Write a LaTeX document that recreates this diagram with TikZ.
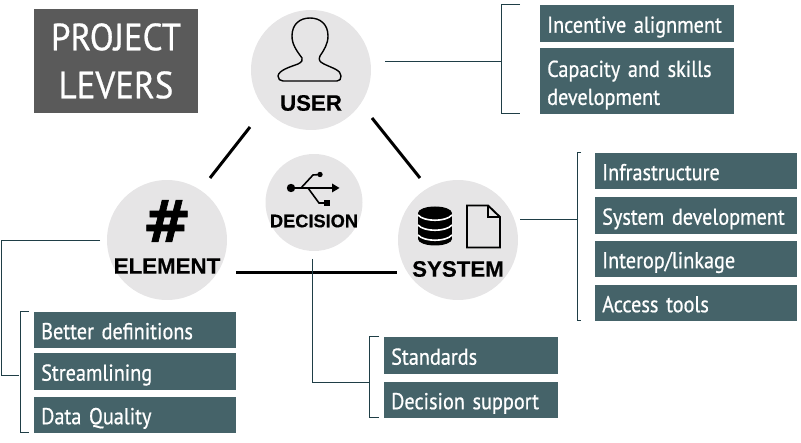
\documentclass[tikz,border=0pt]{standalone}
\usepackage{fontspec}
\setmainfont{Liberation Sans}[BoldFeatures={FakeBold=0.4}]
\newfontfamily\leverfont[FakeStretch=0.88,FakeBold=0.65,WordSpace=0.55]{PT Sans}
\newfontfamily\titlefont[FakeStretch=0.92,FakeBold=0.65]{PT Sans}
\newfontfamily\hashfont[FakeBold=1.2]{DejaVu Sans Bold}
\definecolor{levercol}{HTML}{456369}
\definecolor{linecol}{HTML}{1F3E46}
\definecolor{circcol}{HTML}{E6E5E6}
\definecolor{titlecol}{HTML}{5A5A5A}
\tikzset{
  levercirc/.style={circle,fill=circcol,inner sep=0pt},
  leverbox/.style={fill=levercol,text=white,anchor=north west,inner xsep=7pt,inner ysep=0pt,align=left,
    font=\leverfont\fontsize{23}{28}\selectfont,execute at begin node=\rule[-6pt]{0pt}{30pt}},
  levername/.style={font=\bfseries\fontsize{22.3}{24}\selectfont,inner sep=0pt},
  leverline/.style={draw=linecol,line width=1pt},
  linkline/.style={draw=black,line width=3pt}
}
\begin{document}
\begin{tikzpicture}[x=1pt,y=-1pt]
  \useasboundingbox (0,0) rectangle (801,443);
  % title
  \node[fill=titlecol,text=white,minimum width=164pt,minimum height=104pt,inner sep=0pt,align=center,
    font=\titlefont\fontsize{38}{48}\selectfont] (title) at (116,61) {PROJECT\\LEVERS};
  % circles
  \node[levercirc,minimum size=120pt] (user) at (311,70) {};
  \node[levercirc,minimum size=120pt] (element) at (167,240) {};
  \node[levercirc,minimum size=120pt] (system) at (458,240) {};
  \node[levercirc,minimum size=97pt] (decision) at (314,202.5) {};
  \node[levername] (userlabel) at (311,103) {USER};
  \node[levername] (elementlabel) at (167,266) {ELEMENT};
  \node[levername] (systemlabel) at (458,269) {SYSTEM};
  \node[levername,font=\bfseries\fontsize{18.2}{20}\selectfont] (decisionlabel) at (314,221) {DECISION};
  % links between the circles
  \coordinate (ue) at (250,127); \coordinate (eu) at (210,178);
  \coordinate (us) at (372,118); \coordinate (su) at (420,178);
  \coordinate (es) at (236,273); \coordinate (se) at (397,273);
  \draw[linkline] (ue) -- (eu);
  \draw[linkline] (us) -- (su);
  \draw[linkline] (es) -- (se);
  % user icon
  \draw[line width=1.4pt,line join=round] (302,58) .. controls (296,50) and (292,44) .. (292,36)
    .. controls (292,24) and (300,18) .. (310,18) .. controls (320,18) and (328,24) .. (328,36)
    .. controls (328,44) and (324,50) .. (320,56) .. controls (318,60) and (320,62) .. (324,64)
    .. controls (332,68) and (341,70) .. (341,76) .. controls (341,79) and (340,81) .. (337,81)
    -- (283,81) .. controls (280,81) and (278,79) .. (278,76) .. controls (279,70) and (290,67) .. (298,64)
    .. controls (302,62) and (303,60) .. (302,58) -- cycle;
  % element icon
  \node[font=\hashfont\fontsize{58}{60}\selectfont,inner sep=0pt] (hash) at (167,221) {\#};
  % decision icon
  \fill (291,188) circle (4.2);
  \fill (320,174.5) circle (2.7);
  \fill (324,200.5) rectangle (330,206);
  \fill (332,183.5) -- (339.5,188) -- (332,192.5) -- cycle;
  \draw[line width=1.6pt] (291,188) -- (333,188);
  \draw[line width=1.6pt] (301,188) -- (313,175) -- (320,174.5);
  \draw[line width=1.6pt] (308,188) -- (319,203) -- (326,203);
  % system icons
  \fill (435,213) ellipse (17 and 6.5);
  \fill (418,213) rectangle (452,239);
  \fill (435,239) ellipse (17 and 6.5);
  \draw[white,line width=1.6pt] (418,215) .. controls (424,222) and (446,222) .. (452,215);
  \draw[white,line width=1.6pt] (418,225) .. controls (424,232) and (446,232) .. (452,225);
  \draw[white,line width=1.6pt] (418,235) .. controls (424,242) and (446,242) .. (452,235);
  \draw[line width=1.9pt,line join=miter] (467,205.5) -- (488,205.5) -- (500,217) -- (500,247.5) -- (467,247.5) -- cycle;
  \draw[line width=1.4pt] (488,205.5) -- (488,217) -- (500,217);
  % user levers
  \node[leverbox,text width=180pt,minimum height=37pt] (incentive) at (540,5) {Incentive alignment};
  \node[leverbox,text width=180pt,minimum height=66pt] (capacity) at (540,48) {Capacity and skills\\development};
  \coordinate (uo) at (385,62); \coordinate (ub) at (501,62);
  \coordinate (ut) at (520,5); \coordinate (ud) at (520,114);
  \draw[leverline] (uo) -- (ub);
  \draw[leverline] (ut) -- ++(-19,0) |- (ud);
  % system levers
  \node[leverbox,text width=188pt,minimum height=36pt] (infra) at (595,153) {Infrastructure};
  \node[leverbox,text width=188pt,minimum height=37pt] (sysdev) at (595,197) {System development};
  \node[leverbox,text width=188pt,minimum height=36pt] (interop) at (595,241) {Interop/linkage};
  \node[leverbox,text width=188pt,minimum height=36pt] (access) at (595,285) {Access tools};
  \coordinate (so) at (520,220); \coordinate (sb) at (577,220);
  \coordinate (st) at (581,153); \coordinate (sd) at (581,321);
  \draw[leverline] (so) -- (sb);
  \draw[leverline] (st) -- ++(-4,0) |- (sd);
  % element levers
  \node[leverbox,text width=188pt,minimum height=36pt] (better) at (34,312) {Better definitions};
  \node[leverbox,text width=188pt,minimum height=37pt] (stream) at (34,353) {Streamlining};
  \node[leverbox,text width=188pt,minimum height=36pt] (quality) at (34,397) {Data Quality};
  \coordinate (eo) at (100,241); \coordinate (eb) at (19,376);
  \coordinate (et) at (29,312); \coordinate (ed) at (29,433);
  \draw[leverline] (eo) -- (1,241) |- (eb);
  \draw[leverline] (et) -- ++(-9,0) |- (ed);
  % decision levers
  \node[leverbox,text width=160pt,minimum height=37pt] (standards) at (384,337) {Standards};
  \node[leverbox,text width=160pt,minimum height=36pt] (support) at (384,382) {Decision support};
  \coordinate (do) at (312,259); \coordinate (db) at (369,383);
  \coordinate (dt) at (379,337); \coordinate (dd) at (379,418);
  \draw[leverline] (do) |- (db);
  \draw[leverline] (dt) -- ++(-10,0) |- (dd);
\end{tikzpicture}
\end{document}
